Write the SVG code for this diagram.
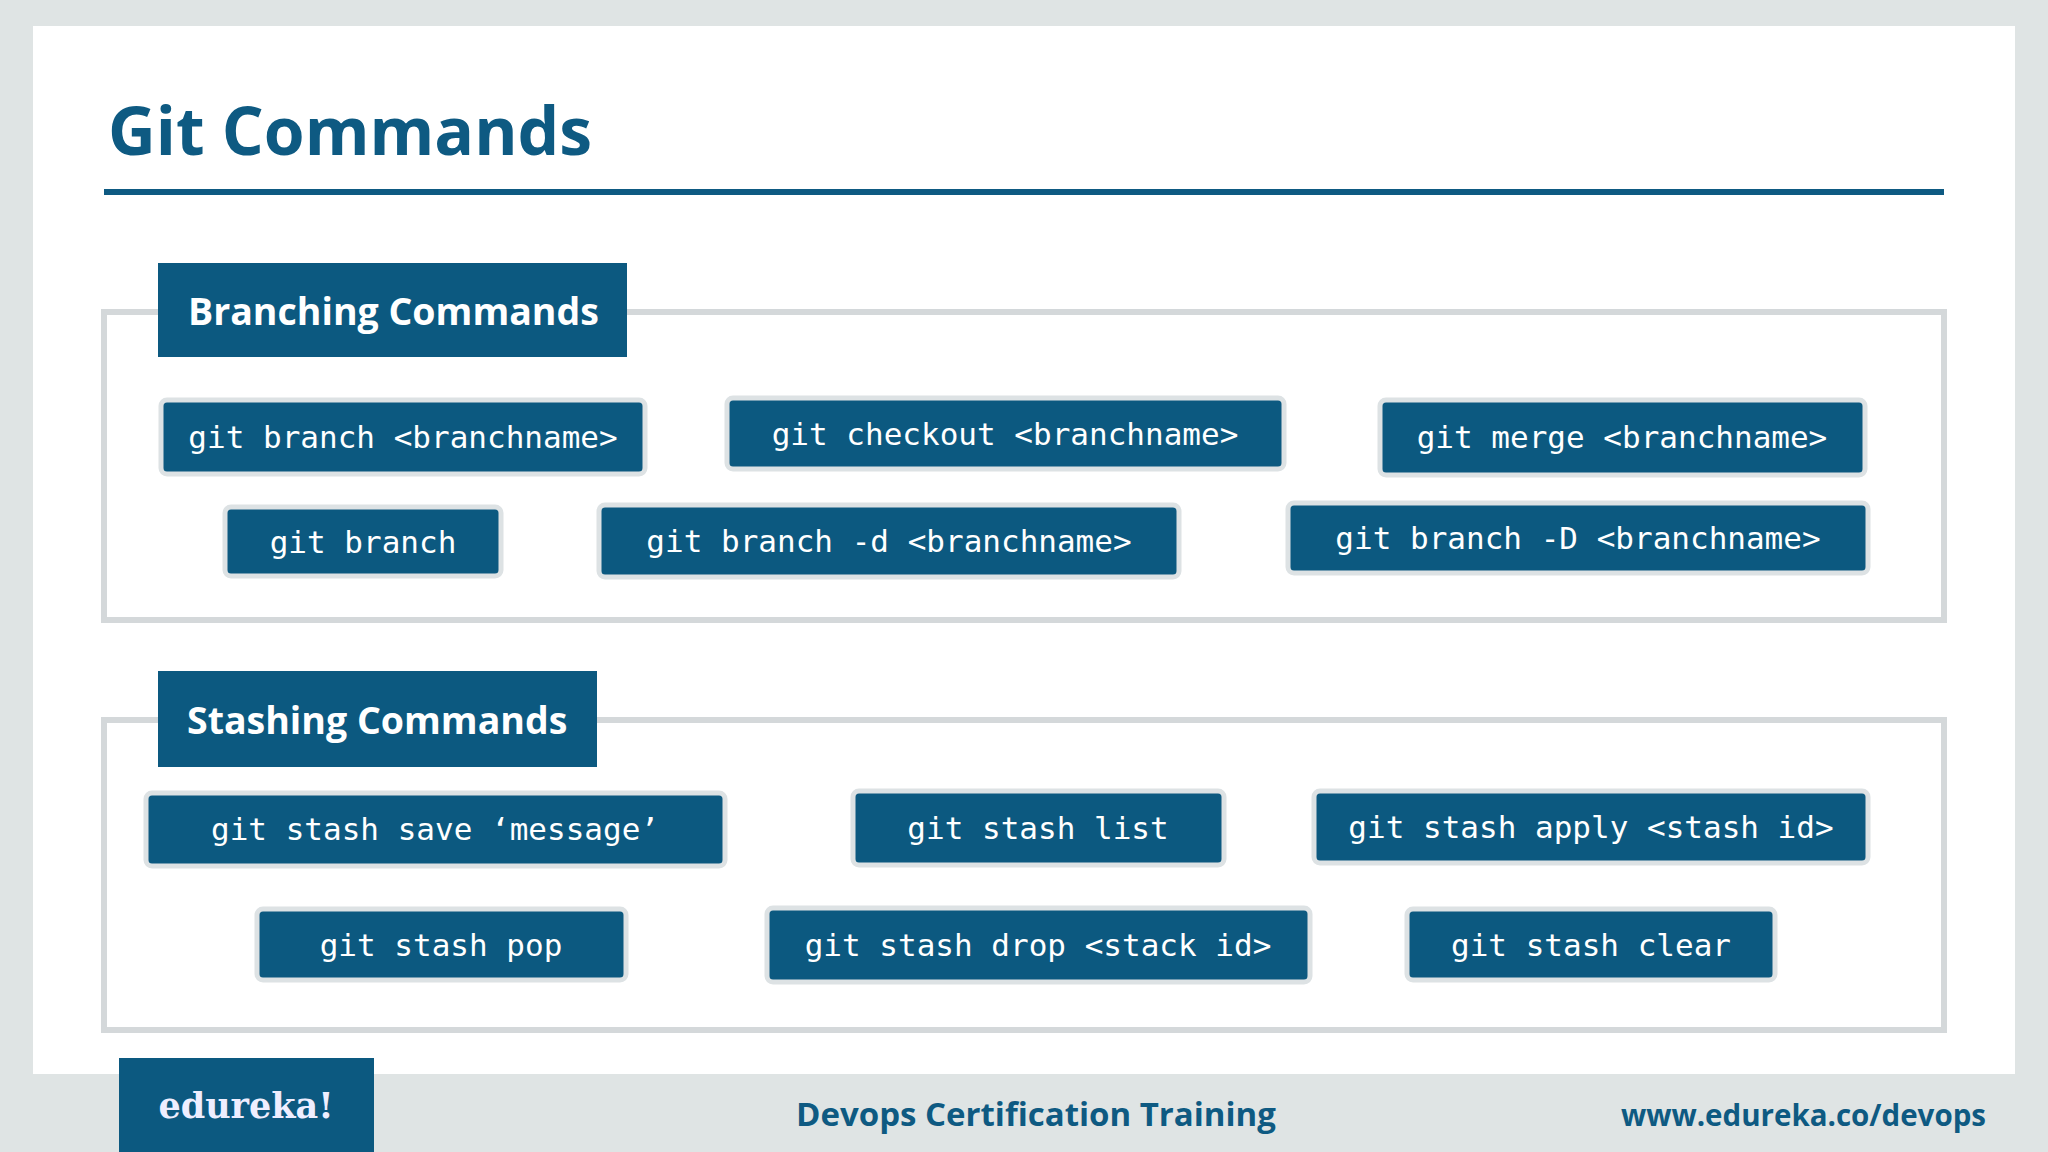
<svg xmlns="http://www.w3.org/2000/svg" width="2048" height="1152" viewBox="0 0 2048 1152">
<style>
.btn{fill:#0c5980;stroke:#dde2e4;stroke-width:5}
.bt{fill:#fff;font-family:"DejaVu Sans Mono",monospace;font-size:31px;text-anchor:middle}
.frame{fill:none;stroke:#d4d8da;stroke-width:6}
.hdr{fill:#0c5980}
.ht{fill:#fff;font-family:"Open Sans","Liberation Sans",sans-serif;font-weight:bold;font-size:37.5px}
</style>
<rect width="2048" height="1152" fill="#dfe4e4"/>
<rect x="33" y="26" width="1982" height="1048" fill="#fff"/>
<text x="108" y="155" font-family="'Open Sans','Liberation Sans',sans-serif" font-weight="bold" font-size="66" fill="#0e5a82">Git Commands</text>
<rect x="104" y="189" width="1840" height="6" fill="#0e5a82"/>
<g id="branching">
<rect class="frame" x="104" y="312" width="1840" height="308"/>
<rect class="hdr" x="158" y="263" width="469" height="94"/>
<text class="ht" x="188" y="325">Branching Commands</text>
</g>
<g id="b1"><rect class="btn" x="161" y="400" width="484" height="74" rx="6"/><text class="bt" x="403" y="448">git branch &lt;branchname&gt;</text></g>
<g id="b2"><rect class="btn" x="727" y="398" width="557" height="71" rx="6"/><text class="bt" x="1005" y="445">git checkout &lt;branchname&gt;</text></g>
<g id="b3"><rect class="btn" x="1380" y="400" width="485" height="75" rx="6"/><text class="bt" x="1622" y="448">git merge &lt;branchname&gt;</text></g>
<g id="b4"><rect class="btn" x="225" y="507" width="276" height="69" rx="6"/><text class="bt" x="363" y="553">git branch</text></g>
<g id="b5"><rect class="btn" x="599" y="505" width="580" height="72" rx="6"/><text class="bt" x="889" y="552">git branch -d &lt;branchname&gt;</text></g>
<g id="b6"><rect class="btn" x="1288" y="503" width="580" height="70" rx="6"/><text class="bt" x="1578" y="549">git branch -D &lt;branchname&gt;</text></g>
<g id="stashing">
<rect class="frame" x="104" y="720" width="1840" height="310"/>
<rect class="hdr" x="158" y="671" width="439" height="96"/>
<text class="ht" x="187" y="734">Stashing Commands</text>
</g>
<g id="s1"><rect class="btn" x="146" y="793" width="579" height="73" rx="6"/><text class="bt" x="435" y="840">git stash save ‘message’</text></g>
<g id="s2"><rect class="btn" x="853" y="791" width="371" height="74" rx="6"/><text class="bt" x="1038" y="839">git stash list</text></g>
<g id="s3"><rect class="btn" x="1314" y="791" width="554" height="72" rx="6"/><text class="bt" x="1591" y="838">git stash apply &lt;stash id&gt;</text></g>
<g id="s4"><rect class="btn" x="257" y="909" width="369" height="71" rx="6"/><text class="bt" x="441" y="956">git stash pop</text></g>
<g id="s5"><rect class="btn" x="767" y="908" width="543" height="74" rx="6"/><text class="bt" x="1038" y="956">git stash drop &lt;stack id&gt;</text></g>
<g id="s6"><rect class="btn" x="1407" y="909" width="368" height="71" rx="6"/><text class="bt" x="1591" y="956">git stash clear</text></g>
<g id="connectors"></g>
<rect x="119" y="1058" width="255" height="94" fill="#0c5980"/>
<text x="246" y="1118" text-anchor="middle" font-family="'DejaVu Serif',serif" font-weight="bold" font-size="35" fill="#eef">edureka!</text>
<text x="1036" y="1126" text-anchor="middle" font-family="'Open Sans','Liberation Sans',sans-serif" font-weight="bold" font-size="33" fill="#0e5a82">Devops Certification Training</text>
<text x="1986" y="1126" text-anchor="end" font-family="'Open Sans','Liberation Sans',sans-serif" font-weight="bold" font-size="29.5" fill="#0e5a82">www.edureka.co/devops</text>
</svg>
